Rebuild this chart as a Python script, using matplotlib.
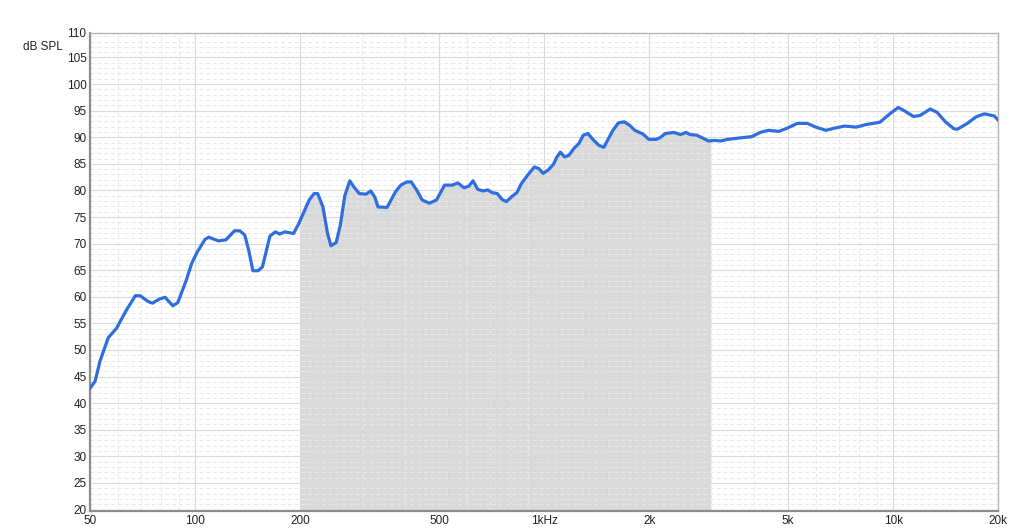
import numpy as np
import matplotlib
matplotlib.use("Agg")
import matplotlib.pyplot as plt
from matplotlib.ticker import FixedLocator, NullFormatter

# Frequency response (Hz, dB SPL)
freq = [50, 51.7, 53.4, 56.4, 59.6, 63.2, 67.4, 69.6, 73.4, 75.5, 79.1, 82.1, 86.3,
        89.2, 94.1, 97.8, 101.6, 106.8, 109.4, 116.7, 122.5, 129.7, 134.4, 138.8,
        142.7, 146.4, 151.6, 155.9, 163.8, 169.8, 174.8, 180.6, 191.5, 198.3, 212.3,
        219.2, 224.5, 232.4, 239.6, 245.0, 253.6, 260.5, 268.5, 277.4, 284.8, 295.4,
        308.8, 318.6, 327.5, 334.1, 354.7, 374.7, 388.5, 404.5, 416, 431.1, 447.2,
        468.9, 491.6, 518.3, 546, 565.7, 589.5, 608, 625.5, 645.5, 668.9, 689.4,
        708.8, 734.7, 757.6, 779.5, 806.5, 835.5, 860.9, 905, 937.6, 965.8, 993.3,
        1029, 1063, 1088, 1113, 1144, 1177, 1217, 1257, 1295, 1334, 1388, 1434,
        1482, 1530, 1574, 1632, 1697, 1753, 1819, 1919, 1994, 2092, 2147, 2223,
        2355, 2458, 2548, 2620, 2733, 2853, 2958, 3076, 3208, 3357, 3552, 3671,
        3929, 4155, 4393, 4698, 4968, 5309, 5675, 6002, 6414, 6784, 7251, 7834,
        8371, 9147, 9778, 10338, 10808, 11426, 11941, 12761, 13346, 14110, 14918,
        15257, 16308, 17238, 18224, 19480, 20000]
spl = [42.8, 44.1, 47.9, 52.3, 54.1, 57.2, 60.2, 60.2, 59.1, 58.8, 59.6, 59.9, 58.3,
       58.9, 62.9, 66.3, 68.5, 70.8, 71.2, 70.5, 70.7, 72.4, 72.4, 71.6,
       68.5, 64.9, 64.9, 65.6, 71.4, 72.2, 71.8, 72.2, 71.9, 73.8, 78.2,
       79.4, 79.4, 76.9, 71.9, 69.6, 70.2, 73.4, 79.0, 81.8, 80.7, 79.4,
       79.3, 79.9, 78.7, 76.9, 76.8, 79.7, 81.0, 81.6, 81.6, 80.1, 78.2,
       77.6, 78.2, 81.0, 81.0, 81.4, 80.5, 80.8, 81.8, 80.2, 79.9, 80.1,
       79.6, 79.4, 78.3, 77.9, 78.8, 79.6, 81.3, 83.2, 84.4, 84.1, 83.2,
       83.9, 84.9, 86.3, 87.2, 86.3, 86.6, 87.9, 88.8, 90.4, 90.7, 89.4, 88.5,
       88.1, 89.8, 91.3, 92.7, 92.9, 92.3, 91.3, 90.6, 89.6, 89.6, 89.9, 90.7,
       90.9, 90.5, 90.9, 90.5, 90.4, 89.8, 89.3, 89.4, 89.3, 89.6, 89.8, 89.9,
       90.1, 90.9, 91.3, 91.1, 91.7, 92.6, 92.6, 91.9, 91.3, 91.7, 92.1, 91.9,
       92.4, 92.8, 94.4, 95.6, 94.9, 93.9, 94.1, 95.3, 94.7, 92.9, 91.6,
       91.5, 92.6, 93.8, 94.4, 94.0, 93.2]

# shaded band
band_lo, band_hi = 200, 3000

x_ticks = [50, 100, 200, 500, 1000, 2000, 5000, 10000, 20000]
x_labels = ["50", "100", "200", "500", "1kHz", "2k", "5k", "10k", "20k"]
y_ticks = list(range(20, 110, 5))
y_min, y_max = 19.7, 109.6

plt.rcParams["font.family"] = ["Liberation Sans", "DejaVu Sans"]

fig = plt.figure(figsize=(10.24, 5.28), dpi=100)
fig.patch.set_facecolor("white")
ax = fig.add_axes([0.0879, 0.032, 0.8870, 0.9055])

freq = np.array(freq)
spl = np.array(spl)

# gray band under the curve
mask = (freq > band_lo) & (freq < band_hi)
bx = np.concatenate([[band_lo], freq[mask], [band_hi]])
by = np.concatenate([[np.interp(np.log10(band_lo), np.log10(freq), spl)], spl[mask],
                     [np.interp(np.log10(band_hi), np.log10(freq), spl)]])
ax.fill_between(bx, y_min, by, color="#d9d9d9", linewidth=0, zorder=1)

ax.plot(freq, spl, color="#2f6ee0", linewidth=2.3, solid_joinstyle="round",
        solid_capstyle="round", zorder=3)

ax.set_xscale("log")
ax.set_xlim(50, 20000)
ax.set_ylim(y_min, y_max)

ax.set_xticks(x_ticks)
ax.set_xticklabels(x_labels)
minor_x = [m * d for d in (10, 100, 1000, 10000) for m in range(2, 10)]
minor_x = [f for f in minor_x if 50 < f < 20000 and f not in x_ticks]
ax.xaxis.set_minor_locator(FixedLocator(minor_x))
ax.xaxis.set_minor_formatter(NullFormatter())

ax.set_yticks(y_ticks + [y_max])
ax.set_yticklabels([str(v) for v in y_ticks] + ["110"])
ax.yaxis.set_minor_locator(FixedLocator([v for v in range(20, 110) if v % 5]))

ax.set_axisbelow("line")
ax.grid(which="major", color="#dadada", linewidth=0.8, linestyle="-")
ax.grid(which="minor", color="#e8e8e8", linewidth=0.7, linestyle=(0, (4, 3)))

ax.tick_params(which="both", length=0, labelsize=8.5, labelcolor="#222222")
ax.tick_params(axis="x", pad=3)
ax.tick_params(axis="y", pad=2.5)

for side in ("left", "bottom"):
    ax.spines[side].set_color("#8c8c8c")
    ax.spines[side].set_linewidth(1.6)
for side in ("top", "right"):
    ax.spines[side].set_color("#b5b5b5")
    ax.spines[side].set_linewidth(1.0)

fig.text(0.061, 0.911, "dB SPL", ha="right", va="center", fontsize=8.5, color="#222222")

fig.savefig("out.png", dpi=100, facecolor=fig.get_facecolor())
